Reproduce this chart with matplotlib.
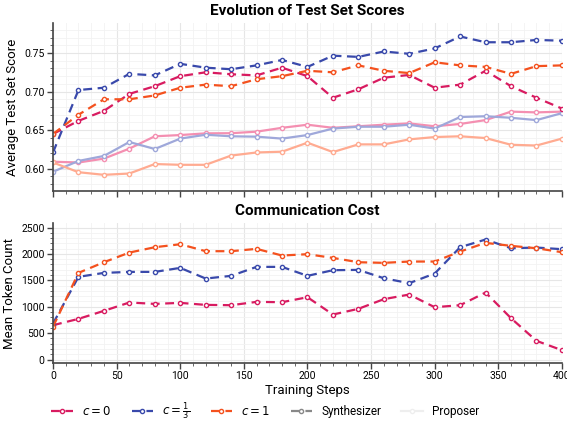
import matplotlib
matplotlib.use("Agg")
import matplotlib.pyplot as plt
from matplotlib.lines import Line2D
from matplotlib.ticker import MultipleLocator

plt.rcParams['font.family'] = ['Roboto', 'DejaVu Sans']
plt.rcParams['mathtext.fontset'] = 'dejavusans'

steps = list(range(0, 401, 20))

# average test set score, synthesizer (dashed)
syn_c0 = [0.645, 0.662, 0.675, 0.697, 0.707, 0.720, 0.725, 0.7225, 0.721, 0.731, 0.720,
          0.692, 0.703, 0.718, 0.7216, 0.705, 0.709, 0.727, 0.707, 0.692, 0.678]
syn_c13 = [0.621, 0.702, 0.705, 0.723, 0.721, 0.736, 0.731, 0.729, 0.734, 0.741, 0.732,
           0.7466, 0.745, 0.752, 0.749, 0.756, 0.7715, 0.764, 0.764, 0.767, 0.766]
syn_c1 = [0.645, 0.670, 0.690, 0.690, 0.695, 0.705, 0.709, 0.707, 0.716, 0.720, 0.727,
          0.725, 0.734, 0.727, 0.724, 0.738, 0.734, 0.732, 0.723, 0.733, 0.734]

# average test set score, proposer (solid)
pro_c0 = [0.609, 0.608, 0.613, 0.626, 0.642, 0.6436, 0.6458, 0.646, 0.648, 0.653, 0.657,
          0.653, 0.655, 0.657, 0.6587, 0.655, 0.658, 0.663, 0.674, 0.673, 0.674]
pro_c13 = [0.596, 0.610, 0.6165, 0.6346, 0.6255, 0.639, 0.644, 0.642, 0.6415, 0.639, 0.6436,
           0.652, 0.6544, 0.6544, 0.657, 0.652, 0.667, 0.668, 0.666, 0.663, 0.672]
pro_c1 = [0.608, 0.5954, 0.592, 0.5937, 0.606, 0.605, 0.605, 0.617, 0.621, 0.622, 0.6337,
          0.6215, 0.6315, 0.6315, 0.638, 0.641, 0.642, 0.6397, 0.631, 0.630, 0.639]

# mean token count
tok_c0 = [650, 770, 922, 1080, 1054, 1073, 1035, 1029, 1092, 1086, 1180,
          852, 960, 1143, 1231, 991, 1029, 1269, 783, 354, 177]
tok_c13 = [680, 1566, 1641, 1660, 1660, 1736, 1534, 1585, 1755, 1755, 1585,
           1692, 1698, 1540, 1446, 1629, 2127, 2273, 2108, 2121, 2090]
tok_c1 = [620, 1641, 1843, 2026, 2127, 2184, 2052, 2052, 2096, 1970, 1995,
          1925, 1843, 1831, 1856, 1856, 2045, 2210, 2153, 2108, 2033]

labels = [r'$c=0$', r'$c=\frac{1}{3}$', r'$c=1$']
dark = ['#d81b60', '#3949ab', '#f4511e']
light = ['#f48fb1', '#9fa8da', '#ffab91']

fig = plt.figure(figsize=(5.67, 4.24), dpi=100)
ax1 = fig.add_axes([0.0935, 0.5495, 0.8975, 0.3963])
ax2 = fig.add_axes([0.0935, 0.1446, 0.8975, 0.3287])

mk = dict(marker='o', markersize=3, markerfacecolor='white', markeredgewidth=1.0)
dash = (0, (4, 2.5))

for vals, col in zip([pro_c0, pro_c13, pro_c1], light):
    ax1.plot(steps, vals, color=col, lw=1.6, ls='-', markeredgecolor=col, **mk)
for vals, col in zip([syn_c0, syn_c13, syn_c1], dark):
    ax1.plot(steps, vals, color=col, lw=1.6, ls=dash, markeredgecolor=col, **mk)
for vals, col in zip([tok_c0, tok_c13, tok_c1], dark):
    ax2.plot(steps, vals, color=col, lw=1.6, ls=dash, markeredgecolor=col, **mk)

ax1.set_ylim(0.571, 0.789)
ax2.set_ylim(-60, 2580)
ax1.yaxis.set_major_locator(MultipleLocator(0.05))
ax1.yaxis.set_minor_locator(MultipleLocator(0.01))
ax2.yaxis.set_major_locator(MultipleLocator(500))
ax2.yaxis.set_minor_locator(MultipleLocator(100))

for ax in (ax1, ax2):
    ax.set_xlim(0, 400)
    ax.xaxis.set_major_locator(MultipleLocator(50))
    ax.xaxis.set_minor_locator(MultipleLocator(10))
    ax.grid(which='major', color='#e6e6e6', lw=0.8)
    ax.grid(which='minor', color='#f2f2f2', lw=0.6)
    ax.set_axisbelow(True)
    for s in ('top', 'right'):
        ax.spines[s].set_visible(False)
    for s in ('left', 'bottom'):
        ax.spines[s].set_color('#444444')
        ax.spines[s].set_linewidth(1.2)
    ax.tick_params(which='major', length=4, width=1, color='#444444', labelsize=7.5, pad=2)
    ax.tick_params(which='minor', length=2, width=0.7, color='#666666')

ax1.tick_params(labelbottom=False)
ax1.set_title('Evolution of Test Set Scores', fontsize=11, fontweight='bold', pad=6)
ax2.set_title('Communication Cost', fontsize=11, fontweight='bold', pad=6)
ax1.set_ylabel('Average Test Set Score', fontsize=9.5)
ax2.set_ylabel('Mean Token Count', fontsize=9.5)
ax2.set_xlabel('Training Steps', fontsize=9.5, labelpad=2)

handles = [Line2D([], [], color=c, lw=1.6, ls=dash, markeredgecolor=c, **mk) for c in dark]
handles.append(Line2D([], [], color='#888888', lw=1.6, ls=dash, markeredgecolor='#888888', **mk))
handles.append(Line2D([], [], color='#eeeeee', lw=1.6, ls='-', markeredgecolor='#eeeeee', **mk))
fig.legend(handles, labels + ['Synthesizer', 'Proposer'], loc='center',
           bbox_to_anchor=(0.468, 0.03), ncol=5, frameon=False, fontsize=8.5,
           handlelength=1.8, handletextpad=0.8, columnspacing=1.7)

fig.savefig('out.png', dpi=100)
